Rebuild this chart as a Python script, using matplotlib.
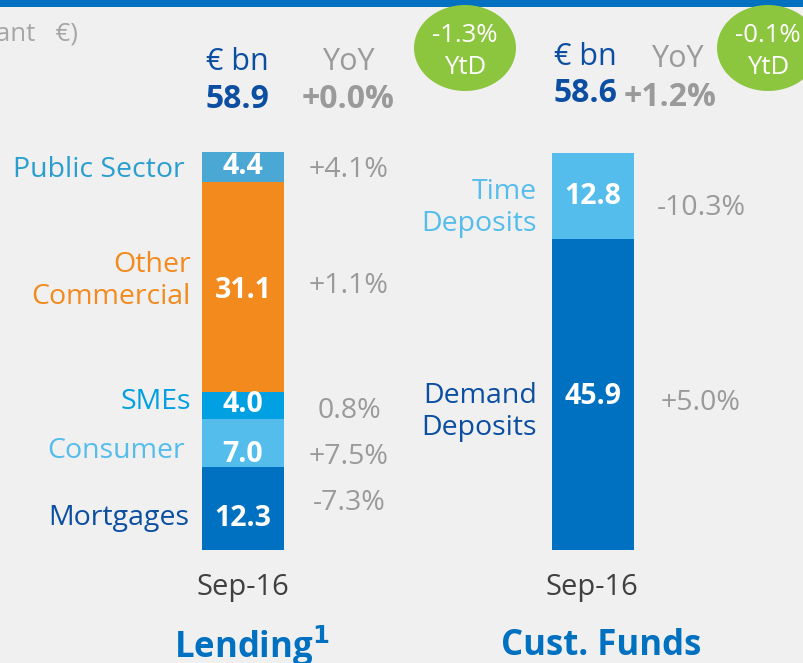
import matplotlib
matplotlib.use("Agg")
import matplotlib.pyplot as plt
import matplotlib.transforms as mtransforms
from matplotlib.patches import Ellipse, Rectangle

plt.rcParams['font.family'] = ['Open Sans', 'DejaVu Sans']

# data
lend_cats = ['Mortgages', 'Consumer', 'SMEs', 'Other\nCommercial', 'Public Sector']
lend_vals = [12.3, 7.0, 4.0, 31.1, 4.4]
lend_yoy = ['-7.3%', '+7.5%', '0.8%', '+1.1%', '+4.1%']
lend_total = '58.9'
lend_total_yoy = '+0.0%'
lend_ytd = '-1.3%'

fund_cats = ['Demand\nDeposits', 'Time\nDeposits']
fund_vals = [45.9, 12.8]
fund_yoy = ['+5.0%', '-10.3%']
fund_total = '58.6'
fund_total_yoy = '+1.2%'
fund_ytd = '-0.1%'

period = 'Sep-16'

lend_colors = ['#0070C0', '#55BDEC', '#00A0E3', '#F28A1E', '#4BA7D3']
lend_txt_colors = ['#0B4EA2', '#55BDEC', '#00A0E3', '#F28A1E', '#2A9FCF']
fund_colors = ['#0070C0', '#55BDEC']
fund_txt_colors = ['#0B4EA2', '#55BDEC']

W, H = 804, 663
SCALE = 6.77  # px per € bn
BASE = 550    # pixel row of bar bottoms

fig = plt.figure(figsize=(W / 100, H / 100), dpi=100, facecolor='#F0F0F0')
ax = fig.add_axes([0, 0, 1, 1])
ax.set_facecolor('#F0F0F0')
ax.set_xlim(0, W)
ax.set_ylim((BASE - H) / SCALE, BASE / SCALE)
ax.axis('off')

# pixel coords measured from top-left
pix = mtransforms.Affine2D().scale(1, -1).translate(0, H)

def txt(x, y, s, **kw):
    ax.text(x, y, s, transform=pix, **kw)

GRAY = '#9A9A9A'
DBLUE = '#0B4EA2'
LBL = 20.5   # side labels / yoy size
NUM = 20.5   # in-bar numbers

# top stripe
ax.add_patch(Rectangle((0, 0), W, 7, transform=pix, color='#0070C0', clip_on=False, lw=0))

txt(-4, 34, 'ant   €)', ha='left', va='center', fontsize=18.5, color='#A6A6A6')

# lending bar (label positions in px from top)
lend_lab_x = [189, 185, 191, 191, 185]
lend_lab_y = [518, 451, 402, 281, 170]
lend_num_y = [518, 454, 405, 290, 166]
lend_yoy_y = [503, 457, 411, 286, 170]
bottom = 0
for i, v in enumerate(lend_vals):
    ax.bar(243, v, width=82, bottom=bottom, color=lend_colors[i], linewidth=0)
    txt(243, lend_num_y[i], f'{v:.1f}', ha='center', va='center', fontsize=NUM,
        fontweight='bold', color='white')
    txt(lend_lab_x[i], lend_lab_y[i], lend_cats[i], ha='right', va='center', fontsize=LBL,
        color=lend_txt_colors[i], linespacing=1.2)
    txt(349, lend_yoy_y[i], lend_yoy[i], ha='center', va='center', fontsize=LBL, color=GRAY)
    bottom += v

# customer funds bar
fund_lab_y = [412, 208]
fund_num_y = [396, 196]
fund_yoy_y = [403, 208]
bottom = 0
for i, v in enumerate(fund_vals):
    ax.bar(593, v, width=82, bottom=bottom, color=fund_colors[i], linewidth=0)
    txt(593, fund_num_y[i], f'{v:.1f}', ha='center', va='center', fontsize=NUM,
        fontweight='bold', color='white')
    txt(537, fund_lab_y[i], fund_cats[i], ha='right', va='center', fontsize=LBL,
        color=fund_txt_colors[i], linespacing=1.2)
    txt(701, fund_yoy_y[i], fund_yoy[i], ha='center', va='center', fontsize=LBL, color=GRAY)
    bottom += v

# headers
txt(237, 62, '€ bn', ha='center', va='center', fontsize=22, color=DBLUE)
txt(237, 99, lend_total, ha='center', va='center', fontsize=23, fontweight='bold', color=DBLUE)
txt(348, 62, 'YoY', ha='center', va='center', fontsize=22, color=GRAY)
txt(348, 99, lend_total_yoy, ha='center', va='center', fontsize=23, fontweight='bold', color=GRAY)

txt(585, 57, '€ bn', ha='center', va='center', fontsize=22, color=DBLUE)
txt(585, 93, fund_total, ha='center', va='center', fontsize=23, fontweight='bold', color=DBLUE)
txt(677, 59, 'YoY', ha='center', va='center', fontsize=22, color=GRAY)
txt(670, 97, fund_total_yoy, ha='center', va='center', fontsize=23, fontweight='bold', color=GRAY)

# YtD badges
for cx, s in [(465, lend_ytd), (768, fund_ytd)]:
    ax.add_patch(Ellipse((cx, 48), 102, 86, transform=pix, color='#8CC63F', lw=0, clip_on=False))
    txt(cx, 35, s, ha='center', va='center', fontsize=18.5, color='white')
    txt(cx, 68, 'YtD', ha='center', va='center', fontsize=18.5, color='white')

# period labels
txt(243, 587, period, ha='center', va='center', fontsize=21, color='#404040')
txt(592, 587, period, ha='center', va='center', fontsize=21, color='#404040')

# titles
txt(252, 646, 'Lending$^{\\mathbf{1}}$', ha='center', va='center', fontsize=25,
    fontweight='bold', color='#0070C0')
txt(601, 646, 'Cust. Funds', ha='center', va='center', fontsize=25,
    fontweight='bold', color='#0070C0')

fig.savefig('out.png', dpi=100, facecolor='#F0F0F0')
